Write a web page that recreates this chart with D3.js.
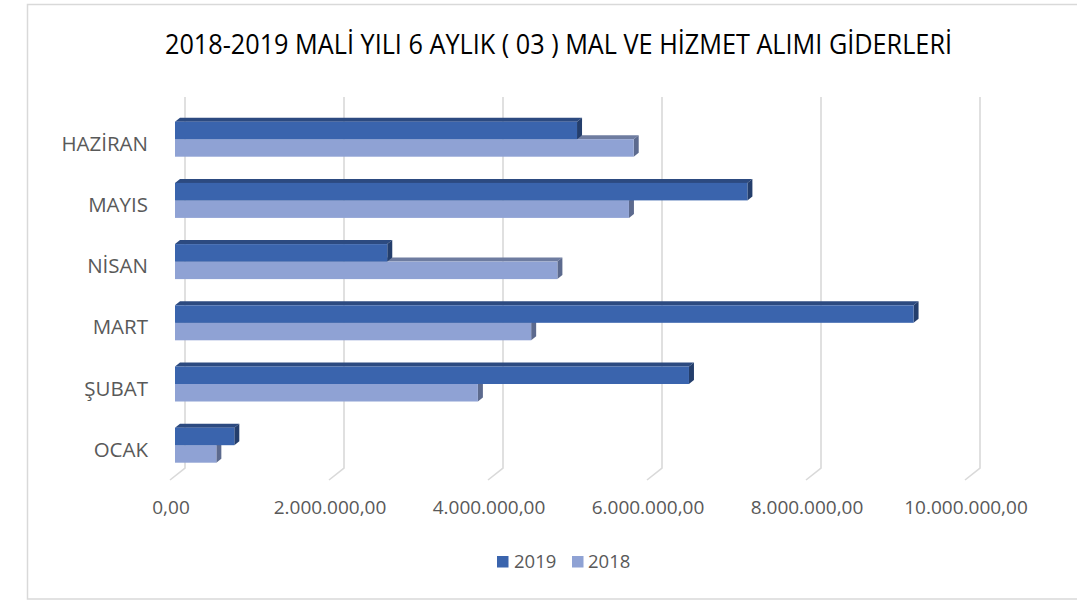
<!DOCTYPE html>
<html>
<head>
<meta charset="utf-8">
<script src="https://cdn.jsdelivr.net/npm/d3@7"></script>
<style>
  html, body { margin: 0; padding: 0; background: #fff; }
  svg { display: block; }
</style>
</head>
<body>
<svg id="chart" width="1077" height="602"></svg>
<script>
// ---- data ----
const categories = ["OCAK", "ŞUBAT", "MART", "NİSAN", "MAYIS", "HAZİRAN"];
const series = ["2019", "2018"];
const values2019 = [746000, 6465000, 9290000, 2670000, 7200000, 5057000];
const values2018 = [520000, 3810000, 4480000, 4810000, 5710000, 5770000];
const tickValues = [0, 2000000, 4000000, 6000000, 8000000, 10000000];
const title = "2018-2019 MALİ YILI 6 AYLIK ( 03 ) MAL VE HİZMET ALIMI GİDERLERİ";

// ---- styles ----
const colors = {
  "2019": { front: "#3a64ad", top: "#2c4a80", side: "#243e6c" },
  "2018": { front: "#8fa2d4", top: "#6e7ca0", side: "#5c6a8e" }
};
const textColor = "#595959";
const gridColor = "#d9d9d9";
const font = "'Open Sans', 'Noto Sans', sans-serif";

const svg = d3.select("#chart");

// chart border
svg.append("rect")
  .attr("x", 27.5).attr("y", 4.5)
  .attr("width", 1077).attr("height", 594.5)
  .attr("fill", "#fff").attr("stroke", gridColor).attr("stroke-width", 1.5);

// title
svg.append("text")
  .attr("x", 558.5).attr("y", 53.5)
  .attr("text-anchor", "middle")
  .attr("font-family", font)
  .attr("font-size", 26.5)
  .attr("font-weight", 500)
  .attr("fill", "#000")
  .attr("textLength", 787)
  .attr("lengthAdjust", "spacingAndGlyphs")
  .text(title);

// geometry: front floor edge origin, full depth offset
const frontX0 = 170, floorFrontY = 480;
const depthDX = 15, depthDY = -12;
const wallTop = 97;

const x = d3.scaleLinear().domain([0, 10000000]).range([0, 795]);

const y = d3.scaleBand()
  .domain(categories.slice().reverse())
  .range([108.6, 475.8])
  .paddingInner(0.428)
  .paddingOuter(0.214);
const ySub = d3.scaleBand().domain(series).range([0, y.bandwidth()]);

// gridlines (back wall + floor diagonals)
const grid = svg.append("g");
tickValues.forEach(v => {
  const xb = frontX0 + depthDX + x(v);
  const xf = frontX0 + x(v);
  grid.append("path")
    .attr("d", `M${xb},${wallTop} L${xb},${floorFrontY + depthDY} L${xf},${floorFrontY}`)
    .attr("fill", "none").attr("stroke", gridColor).attr("stroke-width", 1.6);
});

// tick labels
const loc = d3.formatLocale({ decimal: ",", thousands: ".", grouping: [3], currency: ["", ""] });
const fmt = loc.format(",.2f");
svg.append("g").selectAll("text").data(tickValues).join("text")
  .attr("x", d => frontX0 + x(d) + 1)
  .attr("y", 514)
  .attr("text-anchor", "middle")
  .attr("font-family", font).attr("font-size", 19)
  .attr("fill", textColor)
  .text(d => fmt(d));

// category labels
svg.append("g").selectAll("text").data(categories).join("text")
  .attr("x", 148)
  .attr("y", d => y(d) + y.bandwidth() / 2 + 11.5)
  .attr("text-anchor", "end")
  .attr("font-family", font).attr("font-size", 20.5)
  .attr("fill", textColor)
  .text(d => d);

// bars (3D): front face starts at 1/3 depth, bar depth = 1/3
const barX0 = frontX0 + depthDX / 3;
const bdx = depthDX / 3, bdy = depthDY / 3;

const rows = [];
categories.forEach((c, i) => {
  rows.push({ cat: c, s: "2018", v: values2018[i] });
  rows.push({ cat: c, s: "2019", v: values2019[i] });
});
// draw from bottom to top so upper bars cover lower top faces
rows.sort((a, b) => (y(b.cat) + ySub(b.s)) - (y(a.cat) + ySub(a.s)));

const bars = svg.append("g");
rows.forEach(r => {
  const x0 = barX0, x1 = barX0 + x(r.v);
  const y0 = y(r.cat) + ySub(r.s), y1 = y0 + ySub.bandwidth();
  const c = colors[r.s];
  const g = bars.append("g");
  // top face
  g.append("path")
    .attr("d", `M${x0},${y0} L${x0 + bdx},${y0 + bdy} L${x1 + bdx},${y0 + bdy} L${x1},${y0} Z`)
    .attr("fill", c.top);
  // side face
  g.append("path")
    .attr("d", `M${x1},${y0} L${x1 + bdx},${y0 + bdy} L${x1 + bdx},${y1 + bdy} L${x1},${y1} Z`)
    .attr("fill", c.side);
  // front face
  g.append("rect")
    .attr("x", x0).attr("y", y0)
    .attr("width", x(r.v)).attr("height", ySub.bandwidth())
    .attr("fill", c.front);
});

// legend
const legend = svg.append("g");
const legendItems = [
  { s: "2019", sx: 497, tx: 514 },
  { s: "2018", sx: 572, tx: 588 }
];
legendItems.forEach(it => {
  legend.append("rect")
    .attr("x", it.sx).attr("y", 556)
    .attr("width", 11.5).attr("height", 11.5)
    .attr("fill", colors[it.s].front);
  legend.append("text")
    .attr("x", it.tx).attr("y", 568)
    .attr("font-family", font).attr("font-size", 18.5)
    .attr("fill", textColor)
    .text(it.s);
});
</script>
</body>
</html>
